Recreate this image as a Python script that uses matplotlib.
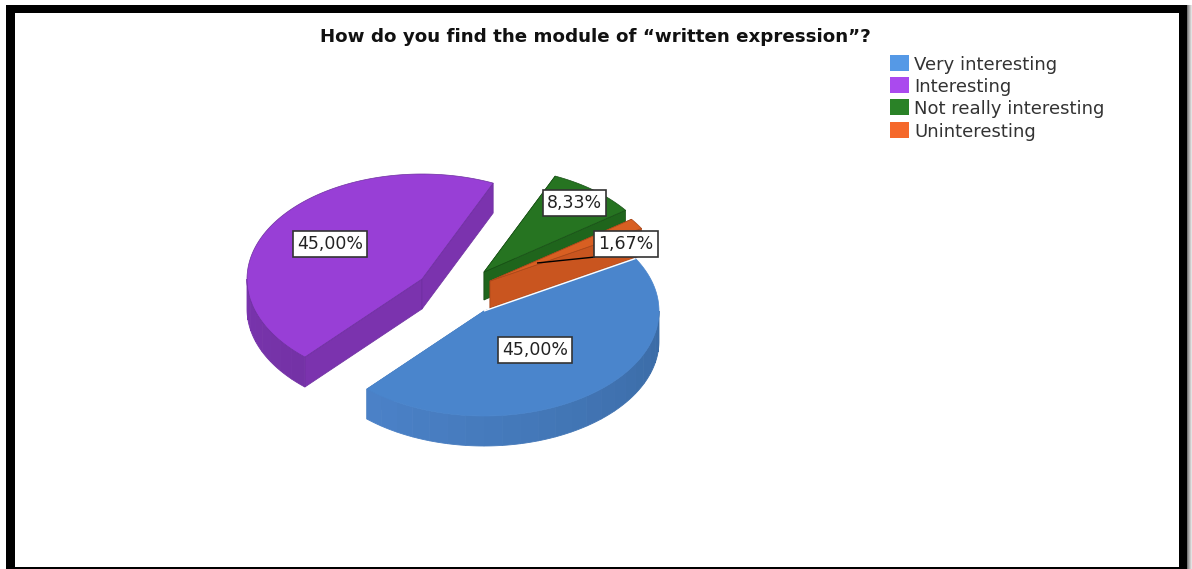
import numpy as np
import matplotlib
matplotlib.use("Agg")
import matplotlib.pyplot as plt
from matplotlib.patches import Polygon, Rectangle

plt.rcParams['font.family'] = ['DejaVu Sans']

# survey answers, percent
categories = ["Very interesting", "Interesting", "Not really interesting", "Uninteresting"]
shares = [45.00, 45.00, 8.33, 1.67]
share_labels = ["45,00%", "45,00%", "8,33%", "1,67%"]
title = "How do you find the module of \u201cwritten expression\u201d?"

# colours per slice
legend_colors = ["#5599E6", "#AA4AEE", "#2A8227", "#F5682A"]
top_colors = ["#4A85CC", "#983FD6", "#267421", "#D85F22"]
face_colors = ["#3F74B4", "#7B33AE", "#1F651C", "#C9551F"]
rim_from = ["#4B82C8", "#8538BF", "#1F651C", "#C9551F"]
rim_to = ["#36659C", "#7432A6", "#1F651C", "#C9551F"]
edge_colors = ["#4A85CC", "#6E2FA0", "#174F15", "#A8471A"]

# pie geometry in figure pixels
START_ANGLE = 30.0
RX, RY = 175.0, 105.0
DEPTH = [30, 30, 28, 27]
APEX_X = [484, 422, 484, 490]
APEX_Y = [311, 279, 272, 281]
LABEL_X = [535, 330, 574.5, 626]
LABEL_Y = [350, 244, 203, 244]
DRAW_ORDER = [2, 3, 1, 0]

W, H = 1192, 569


def rim_point(i, deg):
    a = np.radians(deg)
    return APEX_X[i] + RX * np.cos(a), APEX_Y[i] - RY * np.sin(a)


def mix(c0, c1, t):
    c0 = np.array(matplotlib.colors.to_rgb(c0))
    c1 = np.array(matplotlib.colors.to_rgb(c1))
    return tuple(c0 + (c1 - c0) * t)


def draw_slice(ax, i, a0, a1):
    """Slice i sweeps clockwise from a0 down to a1 (degrees)."""
    d = DEPTH[i]
    ax_, ay_ = APEX_X[i], APEX_Y[i]

    # cut faces, the slice top hides whichever one faces away
    for a in (a0, a1):
        x, y = rim_point(i, a)
        ax.add_patch(Polygon([(ax_, ay_), (x, y), (x, y + d), (ax_, ay_ + d)],
                             closed=True, fc=face_colors[i], ec=edge_colors[i] if i else face_colors[i], lw=0.5))

    # outer wall, banded like the renderer does it
    ts = np.arange(a0, a1 - 6, -6.0)
    ts = np.clip(ts, a1, a0)
    for t0, t1 in zip(ts[:-1], ts[1:]):
        if np.sin(np.radians((t0 + t1) / 2)) >= 0:
            continue
        arc = np.linspace(t0, t1, 8)
        pts = np.array([rim_point(i, t) for t in arc])
        low = pts[::-1] + [0, d]
        frac = (a1 - (t0 + t1) / 2) / (a1 - max(a1 + 140, a0)) if a1 != a0 else 0
        col = mix(rim_from[i], rim_to[i], np.clip(frac, 0, 1))
        ax.add_patch(Polygon(np.vstack([pts, low]), closed=True, fc=col, ec=col, lw=0.6))

    # top surface
    arc = np.linspace(a0, a1, 120)
    pts = [(ax_, ay_)] + [rim_point(i, t) for t in arc]
    ax.add_patch(Polygon(pts, closed=True, fc=top_colors[i], ec=edge_colors[i], lw=0.5))


fig = plt.figure(figsize=(W / 100, H / 100), dpi=100)
ax = fig.add_axes([0, 0, 1, 1])
ax.set_xlim(0, W)
ax.set_ylim(H, 0)
ax.axis("off")

# heavy black frame with a faded shadow on its right side
for x0, y0, w, h in [(6, 5, 1181, 8), (6, 5, 9, 564), (1179, 5, 8, 564), (6, 567, 1181, 2)]:
    ax.add_patch(Rectangle((x0, y0), w, h, fc="black", ec="none"))
for k, g in enumerate(["#777777", "#999999", "#B4B4B4", "#CCCCCC", "#E2E2E2"]):
    ax.add_patch(Rectangle((1187 + k, 5), 1, 564, fc=g, ec="none"))

# slice angles come straight from the shares
ends = START_ANGLE - np.cumsum(shares) * 3.6
starts = np.r_[START_ANGLE, ends[:-1]]
for i in DRAW_ORDER:
    draw_slice(ax, i, starts[i], ends[i])

# thin light seam where the first slice meets the small ones
sx, sy = rim_point(0, starts[0])
ax.plot([APEX_X[0], sx], [APEX_Y[0], sy], color="white", lw=1.0, solid_capstyle="butt")

# leader from the small slice to its label
ax.plot([537, 595], [263, 257], color="black", lw=1.0, solid_capstyle="butt")

for i, lab in enumerate(share_labels):
    ax.text(LABEL_X[i], LABEL_Y[i], lab, ha="center", va="center", fontsize=12.5, color="#222222",
            bbox=dict(boxstyle="square,pad=0.25", fc="white", ec="#333333", lw=1.2))

ax.text(595, 37, title, ha="center", va="center", fontsize=13.15, fontweight="bold", color="#111111")

# legend
for k, (cat, col) in enumerate(zip(categories, legend_colors)):
    y = 55 + k * 22.2
    ax.add_patch(Rectangle((890, y), 19, 16, fc=col, ec="none"))
    ax.text(914, y + 10, cat, ha="left", va="center", fontsize=13, color="#333333")

fig.savefig("out.png", dpi=100, facecolor="white")
